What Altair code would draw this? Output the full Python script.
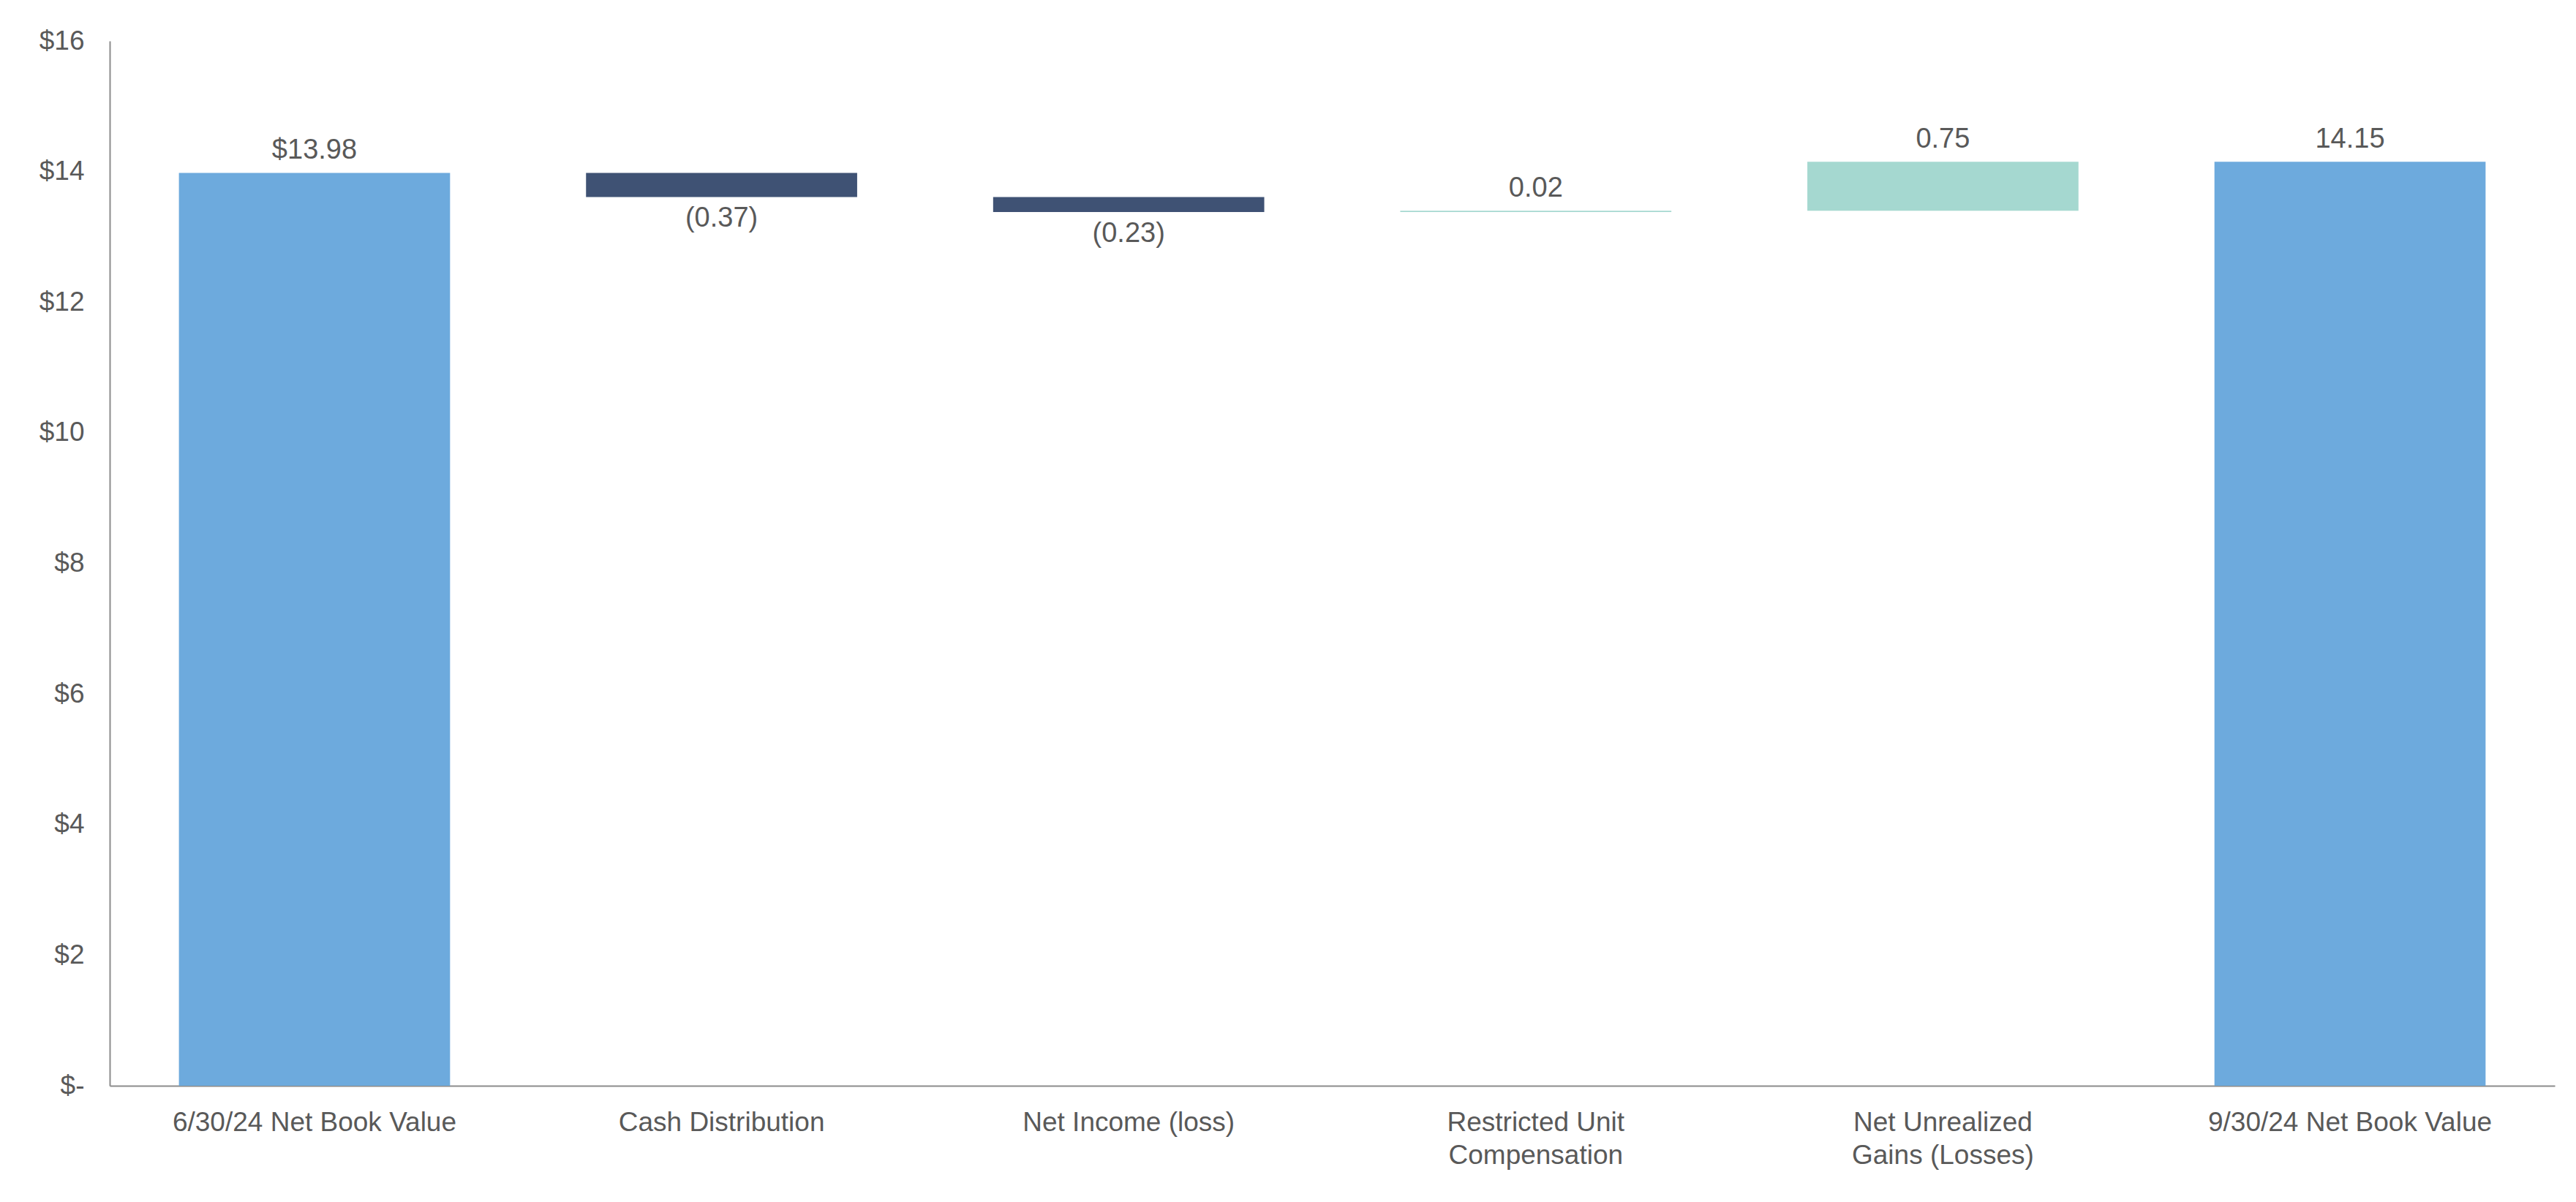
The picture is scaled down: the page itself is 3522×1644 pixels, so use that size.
import altair as alt
import pandas as pd

categories = [
    "6/30/24 Net Book Value",
    "Cash Distribution",
    "Net Income (loss)",
    "Restricted Unit Compensation",
    "Net Unrealized Gains (Losses)",
    "9/30/24 Net Book Value",
]
label_lines = [
    ["6/30/24 Net Book Value"],
    ["Cash Distribution"],
    ["Net Income (loss)"],
    ["Restricted Unit", "Compensation"],
    ["Net Unrealized", "Gains (Losses)"],
    ["9/30/24 Net Book Value"],
]
values = [13.98, -0.37, -0.23, 0.02, 0.75, 14.15]
kinds = ["total", "neg", "neg", "pos", "pos", "total"]
value_labels = ["$13.98", "(0.37)", "(0.23)", "0.02", "0.75", "14.15"]

colors = {"total": "#6DAADD", "neg": "#3F5274", "pos": "#A5D8D0"}

rows = []
running = 0.0
for c, v, k, t in zip(categories, values, kinds, value_labels):
    if k == "total":
        start, end = 0.0, v
        running = v
    else:
        start, end = running, running + v
        running = end
    lo, hi = min(start, end), max(start, end)
    if v < 0:
        ly, dy = lo, 30
    else:
        ly, dy = hi, -30
    rows.append(dict(cat=c, start=start, end=end, kind=k, label=t, ly=ly, dy=dy))
df = pd.DataFrame(rows)

# label expression for multi-line x labels
parts = []
for c, lines in zip(categories, label_lines):
    if len(lines) > 1:
        arr = "[" + ", ".join("'" + s + "'" for s in lines) + "]"
        parts.append(f"datum.label == '{c}' ? {arr} : ")
x_label_expr = "".join(parts) + "datum.label"

FONT = "Liberation Sans"
TXT = "#595959"

x = alt.X(
    "cat:N",
    sort=categories,
    title=None,
    scale=alt.Scale(paddingInner=0.334, paddingOuter=0.17),
    axis=alt.Axis(
        labelAngle=0,
        labelExpr=x_label_expr,
        labelFont=FONT,
        labelFontSize=37,
        labelColor=TXT,
        labelPadding=32,
        labelLineHeight=45,
        ticks=False,
        tickSize=0,
        grid=False,
        domainColor="#8C8C8C",
        domainWidth=2,
        labelLimit=1000,
    ),
)

y_scale = alt.Scale(domain=[0, 16], nice=False)

bars = alt.Chart(df).mark_bar().encode(
    x=x,
    y=alt.Y(
        "start:Q",
        scale=y_scale,
        title=None,
        axis=alt.Axis(
            values=[0, 2, 4, 6, 8, 10, 12, 14, 16],
            labelExpr="datum.value == 0 ? '$-' : '$' + datum.value",
            labelFont=FONT,
            labelFontSize=37,
            labelColor=TXT,
            labelPadding=35,
            ticks=False,
            tickSize=0,
            grid=False,
            domainColor="#8C8C8C",
            domainWidth=2,
        ),
    ),
    y2="end:Q",
    color=alt.Color(
        "kind:N",
        scale=alt.Scale(domain=list(colors.keys()), range=list(colors.values())),
        legend=None,
    ),
)

text_pos = alt.Chart(df[df["dy"] < 0]).mark_text(
    font=FONT, fontSize=38, color=TXT, baseline="middle", dy=-30
).encode(x=alt.X("cat:N", sort=categories), y=alt.Y("ly:Q", scale=y_scale), text="label:N")

text_neg = alt.Chart(df[df["dy"] > 0]).mark_text(
    font=FONT, fontSize=38, color=TXT, baseline="middle", dy=30
).encode(x=alt.X("cat:N", sort=categories), y=alt.Y("ly:Q", scale=y_scale), text="label:N")

chart = (
    alt.layer(bars, text_pos, text_neg)
    .properties(
        width=3343,
        height=1429,
        autosize=alt.AutoSizeParams(type="none"),
        padding={"left": 142, "top": 48, "right": 20, "bottom": 130},
        view=alt.ViewBackground(strokeWidth=0, strokeOpacity=0),
    )
    .configure_view(strokeWidth=0, strokeOpacity=0)
    .configure_axis(grid=False)
    .configure(background="white")
)

chart.save("out.html", embed_options={"renderer": "svg", "actions": False})
